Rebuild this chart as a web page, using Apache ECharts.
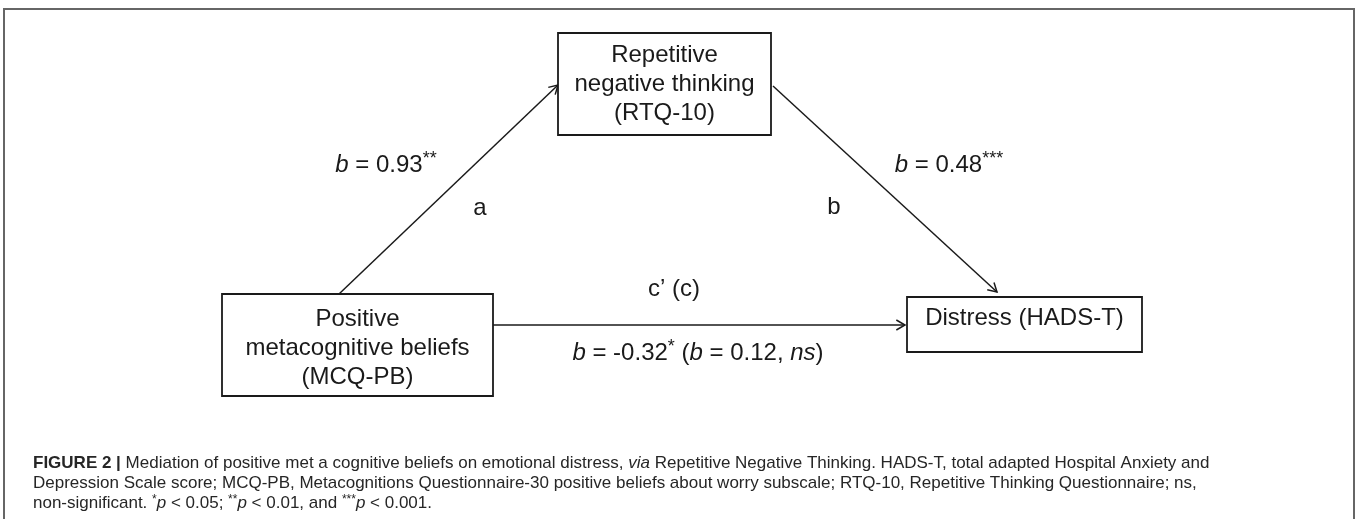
<!DOCTYPE html>
<html>
<head>
<meta charset="utf-8">
<script src="https://cdn.jsdelivr.net/npm/echarts@6/dist/echarts.min.js"></script>
<style>html,body{margin:0;padding:0;background:#fff}#c{width:1358px;height:519px}</style>
</head>
<body>
<div id="c"></div>
<script>
// ---- data ----
const nodeLabels = ['Positive\nmetacognitive beliefs\n(MCQ-PB)', 'Repetitive\nnegative thinking\n(RTQ-10)', 'Distress (HADS-T)'];
const pathNames = ['a', 'b', 'c\u2019 (c)'];
const pathCoef = ['0.93', '0.48', '-0.32'];
const pathStars = ['**', '***', '*'];
const totalCoef = '0.12';
const totalSig = 'ns';
const captionLines = [
  'Mediation of positive met a cognitive beliefs on emotional distress, ',
  'Depression Scale score; MCQ-PB, Metacognitions Questionnaire-30 positive beliefs about worry subscale; RTQ-10, Repetitive Thinking Questionnaire; ns,'
];

// ---- layout (pixel positions of the diagram) ----
const boxRects = [[222, 294, 493, 396], [558, 33, 771, 135], [907, 297, 1142, 352]];
const boxTextY = [348, 84, 318];
const arrowPaths = [[339, 294, 558, 85], [773, 86, 997, 292], [493, 325, 905, 325]];
const nameSpots = [[480, 208], [834, 207], [674, 289]];
const coefSpots = [[386, 165], [949, 165], [698, 353]];

const FONT = 'Liberation Sans, Arial, sans-serif';

const boxData = boxRects.map((r, i) => [r[0], r[1], r[2], r[3], boxTextY[i], i]);
const arrowData = arrowPaths.map((p, i) => [p[0], p[1], p[2], p[3], i]);
const nameData = nameSpots.map((s, i) => [s[0], s[1], i]);
const coefData = coefSpots.map((s, i) => [s[0], s[1], i]);

function coefText(i) {
  let t = '{i|b} = ' + pathCoef[i] + '{s|' + pathStars[i] + '}';
  if (i === 2) t += ' ({i|b} = ' + totalCoef + ', {i|' + totalSig + '})';
  return t;
}

const CAP = 17;
const capBase = {fontSize: CAP, fontFamily: FONT, color: '#262626', lineHeight: 20, fontWeight: 'normal'};

const chart = echarts.init(document.getElementById('c'), null, {renderer: 'canvas'});
chart.setOption({
  animation: false,
  backgroundColor: '#fff',
  grid: {left: 0, right: 0, top: 0, bottom: 0},
  xAxis: {type: 'value', min: 0, max: 1358, show: false},
  yAxis: {type: 'value', min: 0, max: 519, inverse: true, show: false},
  title: {
    left: 33, top: 453, padding: 0,
    text: '{bold|FIGURE 2 | }{n|' + captionLines[0] + '}{it|via}{n| Repetitive Negative Thinking. HADS-T, total adapted Hospital Anxiety and}\n' +
          '{n|' + captionLines[1] + '}\n' +
          '{n|non-significant. }{sup|*}{it|p}{n| < 0.05; }{sup|**}{it|p}{n| < 0.01, and }{sup|***}{it|p}{n| < 0.001.}',
    textStyle: Object.assign({}, capBase, {
      rich: {
        bold: Object.assign({}, capBase, {fontWeight: 'bold'}),
        n: Object.assign({}, capBase),
        it: Object.assign({}, capBase, {fontStyle: 'italic'}),
        sup: Object.assign({}, capBase, {fontSize: 12, verticalAlign: 'top', padding: [1, 0, 0, 0]})
      }
    })
  },
  graphic: [{
    type: 'rect', silent: true,
    shape: {x: 4, y: 9, width: 1350, height: 530},
    style: {fill: 'none', stroke: '#666', lineWidth: 2}
  }],
  series: [
    {
      type: 'custom', coordinateSystem: 'cartesian2d', data: arrowData, silent: true,
      renderItem: function (params, api) {
        const a = api.coord([api.value(0), api.value(1)]);
        const b = api.coord([api.value(2), api.value(3)]);
        const ang = Math.atan2(b[1] - a[1], b[0] - a[0]);
        const L = 10, w = Math.PI / 6;
        const h1 = [b[0] - L * Math.cos(ang - w), b[1] - L * Math.sin(ang - w)];
        const h2 = [b[0] - L * Math.cos(ang + w), b[1] - L * Math.sin(ang + w)];
        return {
          type: 'group', children: [
            {type: 'line', shape: {x1: a[0], y1: a[1], x2: b[0], y2: b[1]}, style: {stroke: '#1a1a1a', lineWidth: 1.5}},
            {type: 'polyline', shape: {points: [h1, b, h2]}, style: {stroke: '#1a1a1a', lineWidth: 1.5, fill: null}}
          ]
        };
      }
    },
    {
      type: 'custom', coordinateSystem: 'cartesian2d', data: boxData, silent: true,
      renderItem: function (params, api) {
        const p0 = api.coord([api.value(0), api.value(1)]);
        const p1 = api.coord([api.value(2), api.value(3)]);
        const ty = api.coord([0, api.value(4)])[1];
        const i = api.value(5);
        return {
          type: 'group', children: [
            {type: 'rect', shape: {x: p0[0], y: p0[1], width: p1[0] - p0[0], height: p1[1] - p0[1]},
             style: {fill: '#fff', stroke: '#1a1a1a', lineWidth: 1.8}},
            {type: 'text', style: {x: (p0[0] + p1[0]) / 2, y: ty, text: nodeLabels[i], align: 'center', verticalAlign: 'middle',
              font: '24px ' + FONT, lineHeight: 29, fill: '#1a1a1a'}}
          ]
        };
      }
    },
    {
      type: 'custom', coordinateSystem: 'cartesian2d', data: nameData, silent: true,
      renderItem: function (params, api) {
        const p = api.coord([api.value(0), api.value(1)]);
        return {type: 'text', style: {x: p[0], y: p[1], text: pathNames[api.value(2)], align: 'center', verticalAlign: 'middle',
          font: '24px ' + FONT, fill: '#1a1a1a'}};
      }
    },
    {
      type: 'custom', coordinateSystem: 'cartesian2d', data: coefData, silent: true,
      renderItem: function (params, api) {
        const p = api.coord([api.value(0), api.value(1)]);
        return {type: 'text', style: {x: p[0], y: p[1], text: coefText(api.value(2)), align: 'center', verticalAlign: 'middle',
          fontSize: 24, fontFamily: FONT, fill: '#1a1a1a',
          rich: {
            i: {fontStyle: 'italic', fontSize: 24, fontFamily: FONT, fill: '#1a1a1a'},
            s: {fontSize: 18, fontFamily: FONT, fill: '#1a1a1a', verticalAlign: 'top', lineHeight: 30}
          }}};
      }
    }
  ]
});
</script>
</body>
</html>
